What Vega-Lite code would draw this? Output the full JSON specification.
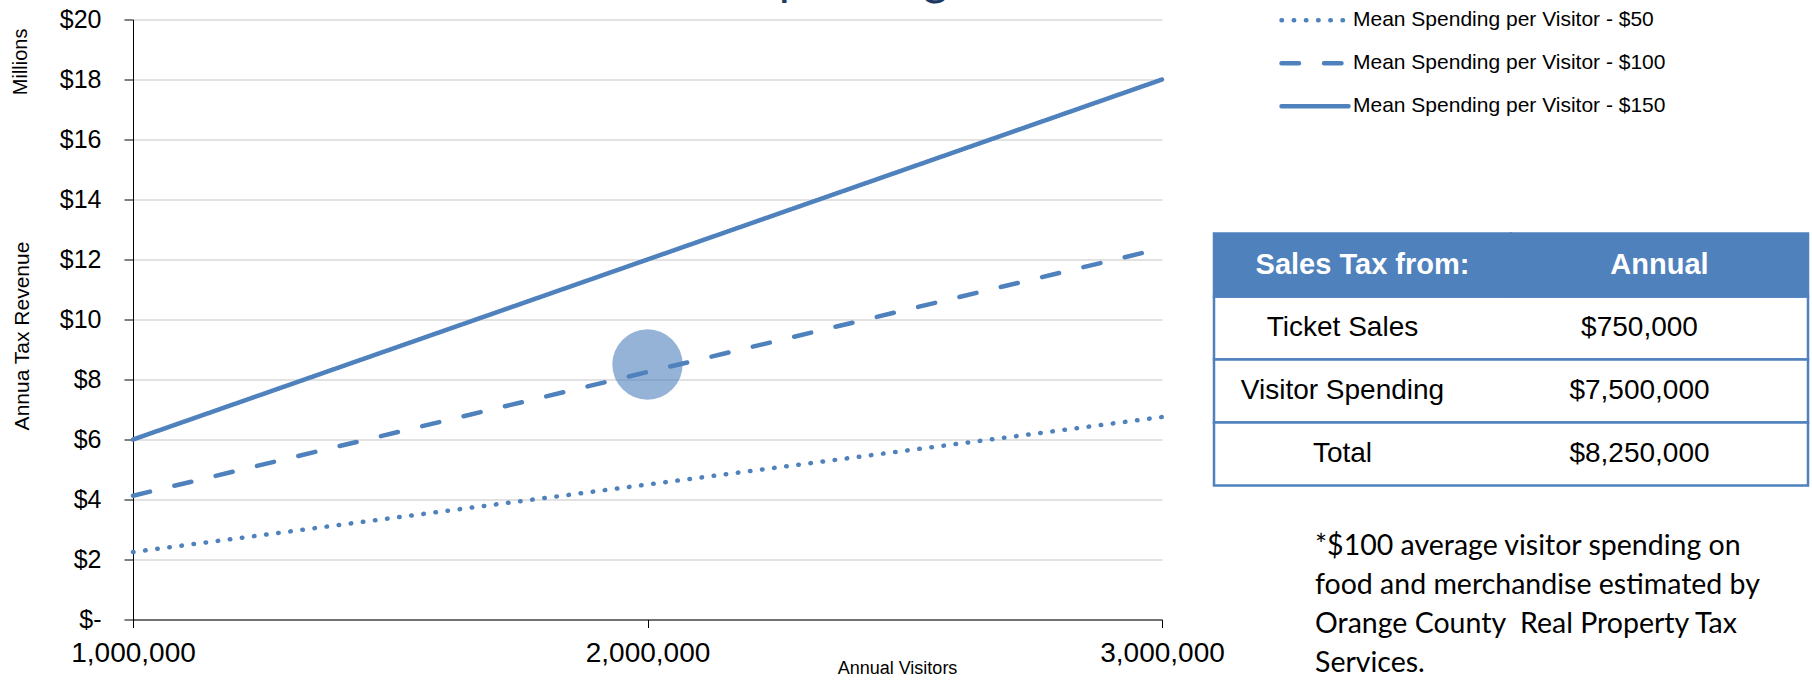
{
  "$schema": "https://vega.github.io/schema/vega-lite/v6.json",
  "background": "white",
  "padding": {"left": 10, "top": -43.5, "right": 0, "bottom": 0},
  "config": {
    "view": {"stroke": null},
    "font": "Liberation Sans"
  },
  "title": {
    "text": "Visitor Spending",
    "anchor": "middle",
    "frame": "bounds",
    "font": "Lato",
    "fontSize": 48,
    "fontWeight": "normal",
    "color": "#1F3864",
    "baseline": "top",
    "offset": -6.2,
    "dx": -134
  },
  "datasets": {
    "revenue": [
      {"series": "Mean Spending per Visitor - $50", "visitors": 1000000, "revenue": 2.25},
      {"series": "Mean Spending per Visitor - $50", "visitors": 2000000, "revenue": 4.5},
      {"series": "Mean Spending per Visitor - $50", "visitors": 3000000, "revenue": 6.75},
      {"series": "Mean Spending per Visitor - $100", "visitors": 1000000, "revenue": 4.125},
      {"series": "Mean Spending per Visitor - $100", "visitors": 2000000, "revenue": 8.25},
      {"series": "Mean Spending per Visitor - $100", "visitors": 3000000, "revenue": 12.375},
      {"series": "Mean Spending per Visitor - $150", "visitors": 1000000, "revenue": 6},
      {"series": "Mean Spending per Visitor - $150", "visitors": 2000000, "revenue": 12},
      {"series": "Mean Spending per Visitor - $150", "visitors": 3000000, "revenue": 18}
    ],
    "bubble": [{"visitors": 2000000, "revenue": 8.5}],
    "tableHeader": [
      {"col": "source", "label": "Sales Tax from:"},
      {"col": "annual", "label": "Annual"}
    ],
    "tableRows": [
      {"row": 1, "source": "Ticket Sales", "amount": 750000},
      {"row": 2, "source": "Visitor Spending", "amount": 7500000},
      {"row": 3, "source": "Total", "amount": 8250000}
    ]
  },
  "bounds": "flush",
  "spacing": 52,
  "hconcat": [
    {
      "width": 1029,
      "height": 600,
      "title": {
        "text": "Millions",
        "orient": "left",
        "anchor": "end",
        "frame": "group",
        "font": "Liberation Sans",
        "fontSize": 20,
        "fontWeight": "normal",
        "color": "black",
        "offset": -19,
        "dx": -9
      },
      "encoding": {
        "x": {
          "field": "visitors",
          "type": "quantitative",
          "scale": {"domain": [1000000, 3000000], "nice": false, "zero": false},
          "axis": {
            "values": [1000000, 2000000, 3000000],
            "format": ",d",
            "grid": false,
            "domainColor": "black",
            "domainWidth": 1,
            "tickColor": "black",
            "tickSize": 8,
            "labelFont": "Liberation Sans",
            "labelFontSize": 28,
            "labelColor": "black",
            "labelPadding": 12,
            "labelFlush": false,
            "labelOverlap": false,
            "title": "Annual Visitors",
            "titleFont": "Liberation Sans",
            "titleFontSize": 18,
            "titleFontWeight": "normal",
            "titleColor": "black",
            "titleX": 764,
            "titleY": 49,
            "titleBaseline": "middle"
          }
        },
        "y": {
          "field": "revenue",
          "type": "quantitative",
          "scale": {"domain": [0, 20], "nice": false},
          "axis": {
            "values": [0, 2, 4, 6, 8, 10, 12, 14, 16, 18, 20],
            "labelExpr": "datum.value == 0 ? '$-' : '$' + datum.value",
            "grid": true,
            "gridColor": "#D9D9D9",
            "gridWidth": 1.5,
            "domainColor": "black",
            "domainWidth": 1,
            "tickColor": "black",
            "tickSize": 9,
            "labelFont": "Liberation Sans",
            "labelFontSize": 25,
            "labelColor": "black",
            "labelPadding": 23,
            "labelFlush": false,
            "labelOverlap": false,
            "title": "Annua Tax Revenue",
            "titleFont": "Liberation Sans",
            "titleFontSize": 21,
            "titleFontWeight": "normal",
            "titleColor": "black",
            "titleAngle": 270,
            "titleX": -110.5,
            "titleY": 316,
            "titleBaseline": "middle"
          }
        }
      },
      "layer": [
        {
          "data": {"name": "bubble"},
          "mark": {"type": "point", "shape": "circle", "filled": true, "size": 4950, "color": "#4F81BD", "opacity": 0.6, "strokeWidth": 0}
        },
        {
          "data": {"name": "revenue"},
          "mark": {"type": "line", "color": "#4F81BD", "strokeWidth": 4.5, "strokeCap": "round"},
          "encoding": {
            "strokeDash": {
              "field": "series",
              "type": "nominal",
              "scale": {
                "domain": ["Mean Spending per Visitor - $50", "Mean Spending per Visitor - $100", "Mean Spending per Visitor - $150"],
                "range": [[0.5, 11.7], [17.5, 25], [1, 0]]
              },
              "legend": {
                "title": null,
                "orient": "none",
                "legendX": 1146,
                "legendY": -20.7,
                "direction": "vertical",
                "padding": 0,
                "symbolType": "stroke",
                "symbolSize": 4489,
                "symbolStrokeWidth": 4.5,
                "symbolStrokeColor": "#4F81BD",
                "clipHeight": 43,
                "labelFont": "Liberation Sans",
                "labelFontSize": 21,
                "labelColor": "black",
                "labelOffset": 2,
                "labelLimit": 0,
                "rowPadding": 0,
                "encoding": {"symbols": {"strokeCap": {"value": "round"}}}
              }
            }
          }
        }
      ]
    },
    {
      "width": 594,
      "height": 466,
      "title": {
        "text": ["*$100 average visitor spending on", "food and merchandise estimated by", "Orange County\u00a0 Real Property Tax", "Services."],
        "orient": "bottom",
        "anchor": "start",
        "frame": "group",
        "font": "Lato",
        "fontSize": 28.5,
        "fontWeight": "normal",
        "color": "black",
        "lineHeight": 39,
        "baseline": "top",
        "offset": 45,
        "dx": 101
      },
      "encoding": {
        "y": {
          "field": "row",
          "type": "ordinal",
          "scale": {"type": "band", "domain": [0, 1, 2, 3], "range": [214, 466], "paddingInner": 0, "paddingOuter": 0},
          "axis": null
        }
      },
      "layer": [
        {
          "data": {"name": "tableRows"},
          "mark": {"type": "rect", "fill": "white", "stroke": "#4F81BD", "strokeWidth": 2.5}
        },
        {
          "data": {"name": "tableHeader"},
          "mark": {"type": "rect", "fill": "#4F81BD", "stroke": "#4F81BD", "strokeWidth": 2.5},
          "encoding": {
            "x": {"field": "col", "type": "nominal", "scale": {"domain": ["source", "annual"], "paddingInner": 0, "paddingOuter": 0}, "axis": null},
            "y": {"datum": 0, "type": "ordinal"}
          }
        },
        {
          "data": {"name": "tableHeader"},
          "mark": {"type": "text", "font": "Liberation Sans", "fontSize": 29, "fontWeight": "bold", "color": "white", "align": "center", "baseline": "middle"},
          "encoding": {
            "x": {"field": "col", "type": "nominal", "axis": null},
            "y": {"datum": 0, "type": "ordinal"},
            "text": {"field": "label", "type": "nominal"}
          }
        },
        {
          "data": {"name": "tableRows"},
          "mark": {"type": "text", "font": "Liberation Sans", "fontSize": 28, "color": "black", "align": "center", "baseline": "middle", "dx": -20},
          "encoding": {
            "x": {"datum": "source", "type": "nominal", "axis": null},
            "text": {"field": "source", "type": "nominal"}
          }
        },
        {
          "data": {"name": "tableRows"},
          "mark": {"type": "text", "font": "Liberation Sans", "fontSize": 28, "color": "black", "align": "center", "baseline": "middle", "dx": -20},
          "encoding": {
            "x": {"datum": "annual", "type": "nominal", "axis": null},
            "text": {"field": "amount", "type": "quantitative", "format": "$,"}
          }
        }
      ]
    }
  ]
}
